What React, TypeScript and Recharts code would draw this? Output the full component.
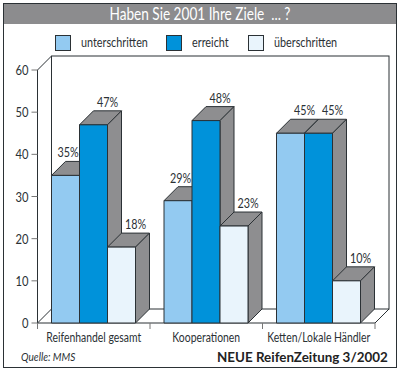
import { BarChart, Bar, XAxis, YAxis, Legend, LabelList, usePlotArea } from 'recharts'

const categories = ['Reifenhandel gesamt', 'Kooperationen', 'Ketten/Lokale Händler']
const unterschritten = [35, 29, 45]
const erreicht = [47, 48, 45]
const ueberschritten = [18, 23, 10]
const yTicks = [0, 10, 20, 30, 40, 50, 60]

const data = categories.map((name, i) => ({
  name,
  unterschritten: unterschritten[i],
  erreicht: erreicht[i],
  ueberschritten: ueberschritten[i],
}))

const FONT = 'Lato, sans-serif'
const INK = '#2b3135'
const SIDE = '#8e8e90'
const DEPTH = 14
const SQUEEZE = 0.8 // the original type is condensed, no condensed face is installed

function NarrowText({ x, y, size, anchor = 'middle', children }: any) {
  return (
    <text
      transform={`translate(${x} ${y}) scale(${SQUEEZE} 1)`}
      textAnchor={anchor}
      fontFamily={FONT}
      fontSize={size}
      fill={INK}
    >
      {children}
    </text>
  )
}

// Front, top and side of one box
function Box3D({ x, y, width, height, fill }: any) {
  const r = x + width
  const b = y + height
  return (
    <g stroke={INK} strokeWidth={1} strokeLinejoin="round">
      <path d={`M${x},${y} l${DEPTH},${-DEPTH} h${width} l${-DEPTH},${DEPTH} z`} fill={SIDE} />
      <path d={`M${r},${y} l${DEPTH},${-DEPTH} v${height} l${-DEPTH},${DEPTH} z`} fill={SIDE} />
      <rect x={x} y={y} width={width} height={b - y} fill={fill} />
    </g>
  )
}

// Back wall, left wall, floor and the ticks between the categories
function Room() {
  const plot = usePlotArea()
  if (!plot) return null
  const { x, y, width, height } = plot
  const b = y + height
  const step = width / categories.length
  return (
    <g fill="none" stroke={INK} strokeWidth={1}>
      <rect x={x + DEPTH} y={y - DEPTH} width={width} height={height} fill="#fff" />
      <path d={`M${x},${y} l${DEPTH},${-DEPTH} M${x},${b} l${DEPTH},${-DEPTH} M${x + width},${b} l${DEPTH},${-DEPTH}`} />
      <path d={`M${x},${y} V${b} H${x + width}`} />
      {categories.concat('').map((_, i) => (
        <line key={i} x1={x + i * step} x2={x + i * step} y1={b} y2={b + 6} stroke="#777" />
      ))}
    </g>
  )
}

// Labels sit over the top face, or to the left when the next bar is taller
function makeLabel(own: number[], next?: number[]) {
  return ({ x, y, width, index, value }: any) => {
    const blocked = next && next[index] > own[index]
    const cx = blocked ? x + 16.5 : x + width / 2 + DEPTH
    return (
      <NarrowText x={cx} y={y - 18} size={13.5}>
        {value}%
      </NarrowText>
    )
  }
}

function XTick({ x, y, payload }: any) {
  return <NarrowText x={x} y={y + 8} size={13}>{payload.value}</NarrowText>
}

function YTick({ x, y, payload }: any) {
  return <NarrowText x={x} y={y + 5} size={14} anchor="end">{payload.value}</NarrowText>
}

const LEGEND_X = [55, 166, 248]

function LegendRow({ payload }: any) {
  return (
    <div style={{ position: 'relative', width: 400, height: 20, fontFamily: FONT, fontSize: 13.5, color: INK }}>
      {(payload || []).map((p: any, i: number) => (
        <div key={p.value}>
          <span style={{ position: 'absolute', left: LEGEND_X[i], top: 0, width: 14, height: 14, background: p.color, border: `1px solid ${INK}`, boxSizing: 'content-box' }} />
          <span style={{ position: 'absolute', left: LEGEND_X[i] + 26, top: -1, whiteSpace: 'nowrap', transform: `scaleX(${SQUEEZE})`, transformOrigin: 'left' }}>{p.value}</span>
        </div>
      ))}
    </div>
  )
}

export default function App() {
  return (
    <div style={{ position: 'absolute', left: 0, top: 0, width: 400, height: 370, background: '#fff', overflow: 'hidden' }}>
      <BarChart
        width={400}
        height={370}
        data={data}
        barCategoryGap={14}
        barGap={0}
        margin={{ top: 70, right: 25, bottom: 17, left: 7.5 }}
      >
        <Room />
        <XAxis
          dataKey="name"
          height={30}
          axisLine={false}
          tickLine={false}
          interval={0}
          tick={<XTick />}
          tickMargin={5}
        />
        <YAxis
          width={30}
          domain={[0, 60]}
          ticks={yTicks}
          axisLine={false}
          tick={<YTick />}
          tickLine={{ stroke: '#777' }}
          tickSize={6}
          tickMargin={3}
        />
        <Legend
          layout="horizontal"
          verticalAlign="middle"
          itemSorter={null}
          wrapperStyle={{ left: 0, top: 35, width: 400 }}
          content={<LegendRow />}
        />
        <Bar dataKey="unterschritten" name="unterschritten" fill="#93caf1" shape={<Box3D />} isAnimationActive={false}>
          <LabelList dataKey="unterschritten" content={makeLabel(unterschritten, erreicht)} />
        </Bar>
        <Bar dataKey="erreicht" name="erreicht" fill="#0092da" shape={<Box3D />} isAnimationActive={false}>
          <LabelList dataKey="erreicht" content={makeLabel(erreicht, ueberschritten)} />
        </Bar>
        <Bar dataKey="ueberschritten" name="überschritten" fill="#e9f4fc" shape={<Box3D />} isAnimationActive={false}>
          <LabelList dataKey="ueberschritten" content={makeLabel(ueberschritten)} />
        </Bar>
      </BarChart>
      {/* frame and title bar */}
      <div style={{ position: 'absolute', left: 3, top: 3, width: 394, height: 365, boxSizing: 'border-box', border: `1.5px solid ${INK}`, pointerEvents: 'none' }} />
      <div style={{ position: 'absolute', left: 4, top: 4, width: 392, height: 20, background: '#8c8c8e' }}>
        <div style={{ color: '#fff', fontFamily: FONT, fontSize: 17, lineHeight: '20px', textAlign: 'center', whiteSpace: 'pre', transform: `scaleX(${SQUEEZE})` }}>
          Haben Sie 2001 Ihre Ziele  ... ?
        </div>
      </div>
      <div style={{ position: 'absolute', left: 21, top: 349, fontFamily: FONT, fontSize: 12, fontStyle: 'italic', color: INK, transform: 'scaleX(0.84)', transformOrigin: 'left' }}>Quelle: MMS</div>
      <div style={{ position: 'absolute', left: 217, top: 349, fontFamily: FONT, fontSize: 13.4, fontWeight: 700, color: '#222', whiteSpace: 'nowrap' }}>NEUE ReifenZeitung 3/2002</div>
    </div>
  )
}
